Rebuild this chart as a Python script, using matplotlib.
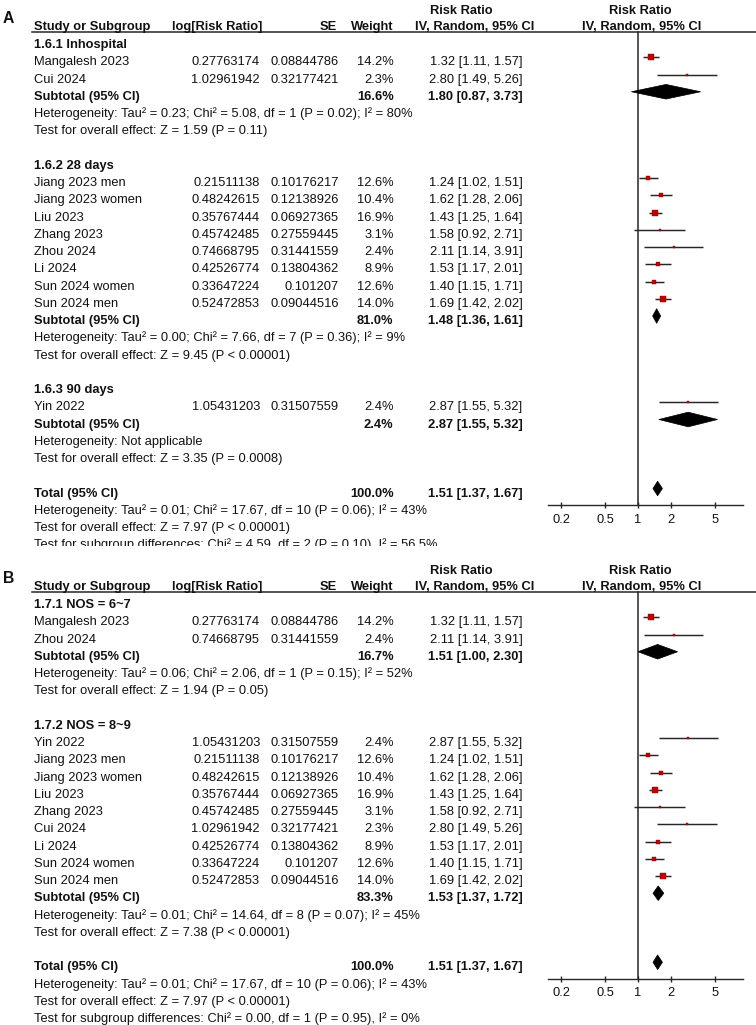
import numpy as np
import matplotlib
matplotlib.use("Agg")
import matplotlib.pyplot as plt
from matplotlib.patches import Polygon, Rectangle
from matplotlib.ticker import NullLocator

plt.rcParams['font.family'] = ['Liberation Sans', 'DejaVu Sans']

# ---------------- data ----------------
studies = ["Mangalesh 2023", "Cui 2024", "Jiang 2023 men", "Jiang 2023 women", "Liu 2023",
           "Zhang 2023", "Zhou 2024", "Li 2024", "Sun 2024 women", "Sun 2024 men", "Yin 2022"]
log_rr = ["0.27763174", "1.02961942", "0.21511138", "0.48242615", "0.35767444",
          "0.45742485", "0.74668795", "0.42526774", "0.33647224", "0.52472853", "1.05431203"]
se = ["0.08844786", "0.32177421", "0.10176217", "0.12138926", "0.06927365",
      "0.27559445", "0.31441559", "0.13804362", "0.101207", "0.09044516", "0.31507559"]
weight = [14.2, 2.3, 12.6, 10.4, 16.9, 3.1, 2.4, 8.9, 12.6, 14.0, 2.4]
rr = [1.32, 2.80, 1.24, 1.62, 1.43, 1.58, 2.11, 1.53, 1.40, 1.69, 2.87]
ci_lo = [1.11, 1.49, 1.02, 1.28, 1.25, 0.92, 1.14, 1.17, 1.15, 1.42, 1.55]
ci_hi = [1.57, 5.26, 1.51, 2.06, 1.64, 2.71, 3.91, 2.01, 1.71, 2.02, 5.32]

# Panel A subgroups
a_labels = ["1.6.1 Inhospital", "1.6.2 28 days", "1.6.3 90 days"]
a_members = [["Mangalesh 2023", "Cui 2024"],
             ["Jiang 2023 men", "Jiang 2023 women", "Liu 2023", "Zhang 2023", "Zhou 2024",
              "Li 2024", "Sun 2024 women", "Sun 2024 men"],
             ["Yin 2022"]]
a_sub_w = [16.6, 81.0, 2.4]
a_sub_rr = [1.80, 1.48, 2.87]
a_sub_lo = [0.87, 1.36, 1.55]
a_sub_hi = [3.73, 1.61, 5.32]
a_het = ["Heterogeneity: Tau² = 0.23; Chi² = 5.08, df = 1 (P = 0.02); I² = 80%",
         "Heterogeneity: Tau² = 0.00; Chi² = 7.66, df = 7 (P = 0.36); I² = 9%",
         "Heterogeneity: Not applicable"]
a_test = ["Test for overall effect: Z = 1.59 (P = 0.11)",
          "Test for overall effect: Z = 9.45 (P < 0.00001)",
          "Test for overall effect: Z = 3.35 (P = 0.0008)"]
a_subdiff = "Test for subgroup differences: Chi² = 4.59, df = 2 (P = 0.10), I² = 56.5%"

# Panel B subgroups
b_labels = ["1.7.1 NOS = 6~7", "1.7.2 NOS = 8~9"]
b_members = [["Mangalesh 2023", "Zhou 2024"],
             ["Yin 2022", "Jiang 2023 men", "Jiang 2023 women", "Liu 2023", "Zhang 2023",
              "Cui 2024", "Li 2024", "Sun 2024 women", "Sun 2024 men"]]
b_sub_w = [16.7, 83.3]
b_sub_rr = [1.51, 1.53]
b_sub_lo = [1.00, 1.37]
b_sub_hi = [2.30, 1.72]
b_het = ["Heterogeneity: Tau² = 0.06; Chi² = 2.06, df = 1 (P = 0.15); I² = 52%",
         "Heterogeneity: Tau² = 0.01; Chi² = 14.64, df = 8 (P = 0.07); I² = 45%"]
b_test = ["Test for overall effect: Z = 1.94 (P = 0.05)",
          "Test for overall effect: Z = 7.38 (P < 0.00001)"]
b_subdiff = "Test for subgroup differences: Chi² = 0.00, df = 1 (P = 0.95), I² = 0%"

# Overall (same in both panels)
total_w = 100.0
total_rr, total_lo, total_hi = 1.51, 1.37, 1.67
total_het = "Heterogeneity: Tau² = 0.01; Chi² = 17.67, df = 10 (P = 0.06); I² = 43%"
total_test = "Test for overall effect: Z = 7.97 (P < 0.00001)"

tick_vals = [0.2, 0.5, 1, 2, 5]
tick_labels = ["0.2", "0.5", "1", "2", "5"]

# ---------------- layout ----------------
W, H = 756, 1025
FS = 9.25
TXT = '#111111'
LINE = '#262626'
RED = '#c00000'
ROW = 17.25
FX0 = 540.0          # left pixel of forest axes
NULL_PX = 638.0      # pixel of RR = 1
DEC_PX = 109.6       # pixels per decade
AX_LO, AX_HI = 0.15, 9.0
MK_OFF = 3.5
DH = 7.3

fig = plt.figure(figsize=(W / 100, H / 100), dpi=100)
tax = fig.add_axes([0, 0, 1, 1])
tax.set_xlim(0, W)
tax.set_ylim(H, 0)
tax.axis('off')

idx = {s: i for i, s in enumerate(studies)}


def put(x, y, s, ha='left', bold=False, size=FS, z=3):
    px = size * 100 / 72
    tax.text(x, y + 0.36 * px, s, ha=ha, va='baseline', fontsize=size,
             fontweight='bold' if bold else 'normal', color=TXT, zorder=z)


def make_forest(y_axis, y_top):
    ax = fig.add_axes([FX0 / W, 0, 1 - FX0 / W, 1])
    ax.set_xscale('log')
    ax.set_xlim(10 ** ((FX0 - NULL_PX) / DEC_PX), 10 ** ((W - NULL_PX) / DEC_PX))
    ax.set_ylim(H, 0)
    ax.patch.set_alpha(0)
    for s in ['top', 'right', 'left']:
        ax.spines[s].set_visible(False)
    ax.spines['bottom'].set_position(('data', y_axis))
    ax.spines['bottom'].set_bounds(AX_LO, AX_HI)
    ax.spines['bottom'].set_color(LINE)
    ax.spines['bottom'].set_linewidth(1.0)
    ax.set_xticks(tick_vals, tick_labels)
    ax.xaxis.set_minor_locator(NullLocator())
    ax.tick_params(axis='x', direction='inout', length=4.8, width=1.0, pad=4,
                   labelsize=FS, color=LINE, labelcolor=TXT)
    ax.set_yticks([])
    ax.plot([1, 1], [y_top, y_axis], color=LINE, lw=1.1, zorder=1)
    return ax


def diamond(ax, est, lo, hi, y):
    ax.add_patch(Polygon([(lo, y), (est, y - DH), (hi, y), (est, y + DH)],
                         closed=True, facecolor='black', edgecolor='black', lw=0.5, zorder=3))


def study_row(ax, name, y):
    i = idx[name]
    put(33.5, y, name)
    put(260, y, log_rr[i], ha='right')
    put(339, y, se[i], ha='right')
    put(393.5, y, f"{weight[i]:.1f}%", ha='right')
    put(522.5, y, f"{rr[i]:.2f} [{ci_lo[i]:.2f}, {ci_hi[i]:.2f}]", ha='right')
    ym = y - MK_OFF
    ax.plot([ci_lo[i], ci_hi[i]], [ym, ym], color=LINE, lw=1.05, zorder=2, solid_capstyle='butt')
    side_px = 1.06 + 1.08 * np.sqrt(weight[i])
    ax.plot([rr[i]], [ym], marker='s', ms=side_px * 0.72, color=RED, mec='#9a0000', mew=0.3, zorder=3)


def panel(letter, top, labels, members, sw, srr, slo, shi, het, test, subdiff):
    line_y = top - 11.5
    # headers
    put(3, top - 26.2, letter, bold=True, size=11.3)
    put(33.5, top - 17.8, "Study or Subgroup", bold=True)
    put(172, top - 17.8, "log[Risk Ratio]", bold=True)
    put(337, top - 17.8, "SE", ha='right', bold=True)
    put(393.5, top - 17.8, "Weight", ha='right', bold=True)
    put(430, top - 34.5, "Risk Ratio", bold=True)
    put(415, top - 17.8, "IV, Random, 95% CI", bold=True)
    put(640, top - 34.5, "Risk Ratio", ha='center', bold=True)
    put(641.5, top - 17.8, "IV, Random, 95% CI", ha='center', bold=True)
    tax.plot([31.5, W], [line_y, line_y], color=LINE, lw=1.1)

    y = top
    all_groups = []
    for g in range(len(labels)):
        put(33.5, y, labels[g], bold=True)
        y += ROW
        rows = []
        for name in members[g]:
            rows.append((name, y))
            y += ROW
        put(33.5, y, "Subtotal (95% CI)", bold=True)
        put(393.5, y, f"{sw[g]:.1f}%", ha='right', bold=True)
        put(522.5, y, f"{srr[g]:.2f} [{slo[g]:.2f}, {shi[g]:.2f}]", ha='right', bold=True)
        sub_y = y
        y += ROW
        put(33.5, y, het[g])
        y += ROW
        put(33.5, y, test[g])
        y += 2 * ROW
        all_groups.append((rows, sub_y, g))
    tot_y = y
    put(33.5, y, "Total (95% CI)", bold=True)
    put(393.5, y, f"{total_w:.1f}%", ha='right', bold=True)
    put(522.5, y, f"{total_rr:.2f} [{total_lo:.2f}, {total_hi:.2f}]", ha='right', bold=True)
    y += ROW
    put(33.5, y, total_het)
    y += ROW
    put(33.5, y, total_test)
    y += ROW
    put(33.5, y, subdiff)

    ax = make_forest(tot_y + 12.8, line_y)
    for rows, sub_y, g in all_groups:
        for name, ry in rows:
            study_row(ax, name, ry)
        diamond(ax, srr[g], slo[g], shi[g], sub_y - MK_OFF)
    diamond(ax, total_rr, total_lo, total_hi, tot_y - MK_OFF)
    return y


panel("A", 43.5, a_labels, a_members, a_sub_w, a_sub_rr, a_sub_lo, a_sub_hi, a_het, a_test, a_subdiff)
# the lower half of panel A's last line is hidden under panel B
tax.add_patch(Rectangle((0, 546), 540, 14, facecolor='white', edgecolor='none', zorder=10))
panel("B", 603.5, b_labels, b_members, b_sub_w, b_sub_rr, b_sub_lo, b_sub_hi, b_het, b_test, b_subdiff)

fig.savefig("out.png", dpi=100, facecolor='white')
